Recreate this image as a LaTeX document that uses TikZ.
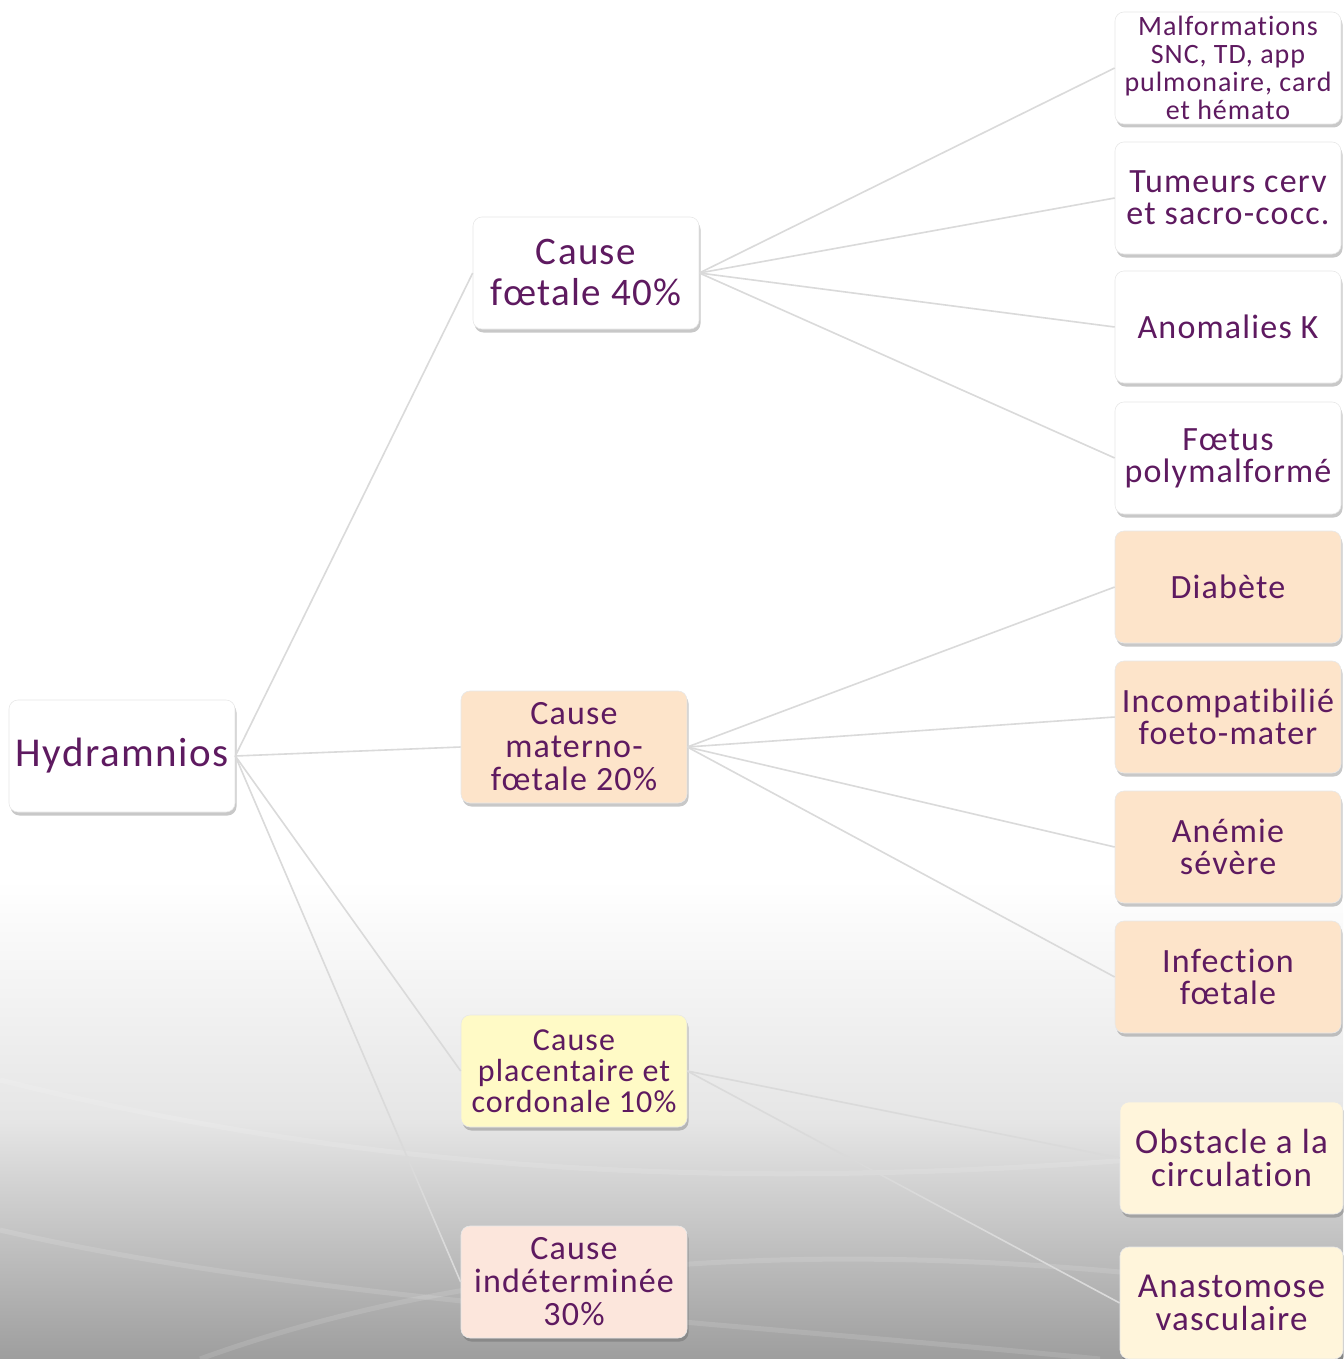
\documentclass[tikz,border=0pt]{standalone}
\usepackage{fontspec}
\setmainfont{Carlito}[LetterSpace=3.5,Ligatures={NoCommon}]
\usetikzlibrary{shadows}
\definecolor{txt}{HTML}{5E1A60}
\definecolor{peach}{HTML}{FDE4CA}
\definecolor{yel}{HTML}{FFFAC6}
\definecolor{pinkish}{HTML}{FCE6DC}
\definecolor{cream}{HTML}{FFF5DB}
\definecolor{conn}{HTML}{DADADA}
\begin{document}
\begin{tikzpicture}[x=1pt,y=-1pt,
  box/.style={rounded corners=9pt, minimum width=226pt, minimum height=112pt,
    align=center, text=txt, inner sep=2pt, fill=white, draw=black!9, line width=0.6pt,
    drop shadow={shadow xshift=1.5pt, shadow yshift=-3.5pt, opacity=0.3, fill=black!70, draw=none}},
  link/.style={draw=conn, line width=1.6pt}]
\useasboundingbox (0,0) rectangle (1343,1359);
% background
\fill[white] (0,0) rectangle (1343,880);
\shade[top color=white, bottom color=black!10] (0,880) rectangle (1343,1120);
\shade[top color=black!10, bottom color=black!38] (0,1120) rectangle (1343,1359);
\begin{scope}[white, opacity=0.12, line width=5pt]
\draw (0,1080) .. controls (400,1180) and (800,1200) .. (1343,1140);
\draw (0,1230) .. controls (300,1300) and (700,1320) .. (1100,1359);
\draw (200,1359) .. controls (500,1250) and (900,1230) .. (1343,1300);
\end{scope}
% nodes
\node[box, font=\fontsize{41}{42}\selectfont] (h) at (122,756) {Hydramnios};
\node[box, font=\fontsize{39}{41}\selectfont] (cf) at (586,273) {Cause\\fœtale 40\%};
\node[box, fill=peach, font=\fontsize{34}{33}\selectfont] (cm) at (574,747) {Cause\\materno-\\fœtale 20\%};
\node[box, fill=yel, font=\fontsize{32}{31}\selectfont] (cp) at (574,1071) {Cause\\placentaire et\\cordonale 10\%};
\node[box, fill=pinkish, font=\fontsize{34}{33}\selectfont] (ci) at (574,1282) {Cause\\indéterminée\\30\%};
\node[box, font=\fontsize{28}{28}\selectfont] (r1) at (1228,68) {Malformations\\SNC, TD, app\\pulmonaire, card\\et hémato};
\node[box, font=\fontsize{34}{32}\selectfont] (r2) at (1228,198) {Tumeurs cerv\\et sacro-cocc.};
\node[box, font=\fontsize{34}{32}\selectfont] (r3) at (1228,327) {Anomalies K};
\node[box, font=\fontsize{34}{32}\selectfont] (r4) at (1228,458) {Fœtus\\polymalformé};
\node[box, fill=peach, font=\fontsize{34}{32}\selectfont] (r5) at (1228,587) {Diabète};
\node[box, fill=peach, font=\fontsize{34}{32}\selectfont] (r6) at (1228,717) {Incompatibilié\\foeto-mater};
\node[box, fill=peach, font=\fontsize{34}{32}\selectfont] (r7) at (1228,847) {Anémie\\sévère};
\node[box, fill=peach, font=\fontsize{34}{32}\selectfont] (r8) at (1228,977) {Infection\\fœtale};
\node[box, fill=cream, minimum width=223pt, font=\fontsize{35}{33}\selectfont] (r9) at (1231.5,1158) {Obstacle a la\\circulation};
\node[box, fill=cream, minimum width=223pt, font=\fontsize{35}{33}\selectfont] (r10) at (1231.5,1303) {Anastomose\\vasculaire};
% connectors
\draw[link] (h.east) -- (cf.west);
\draw[link] (h.east) -- (cm.west);
\draw[link] (h.east) -- (cp.west);
\draw[link] (h.east) -- (ci.west);
\foreach \t in {r1,r2,r3,r4} \draw[link] (cf.east) -- (\t.west);
\foreach \t in {r5,r6,r7,r8} \draw[link] (cm.east) -- (\t.west);
\foreach \t in {r9,r10} \draw[link] (cp.east) -- (\t.west);
\end{tikzpicture}
\end{document}
